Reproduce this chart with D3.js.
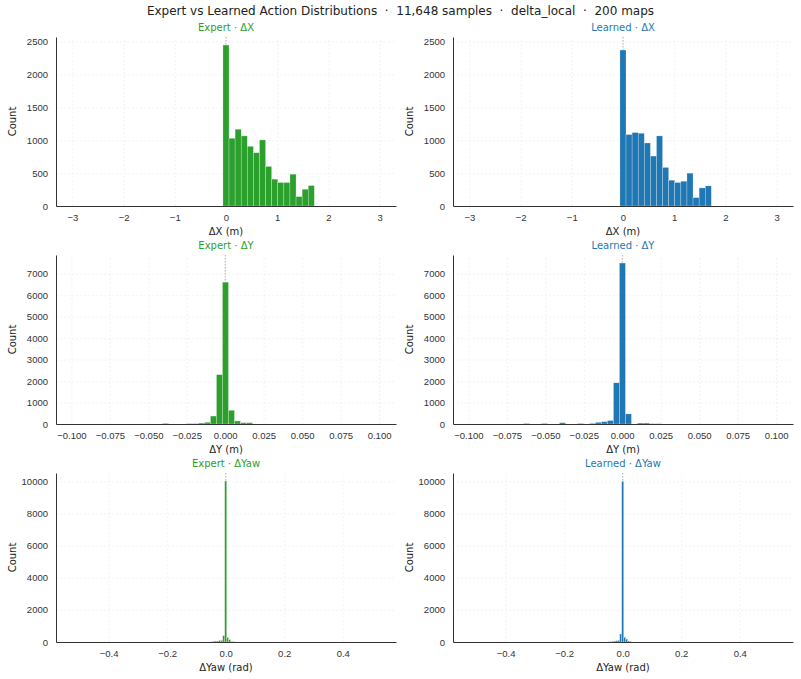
<!DOCTYPE html>
<html>
<head>
<meta charset="utf-8">
<script src="https://cdn.jsdelivr.net/npm/d3@7"></script>
<style>
  body { margin: 0; background: #fff; }
  svg { font-family: "DejaVu Sans", sans-serif; }
  .tick text { fill: #333; font-size: 9.5px; }
  .domain { stroke: #333; }
  .grid line { stroke: #f0f0f0; stroke-dasharray: 2,2; stroke-width: 0.8; }
  .grid .domain { display: none; }
</style>
</head>
<body>
<div id="main"></div>
<script>
// title text
const title = 'Expert vs Learned Action Distributions  \u00b7  11,648 samples  \u00b7  delta_local  \u00b7  200 maps';
const sources = ['Expert', 'Learned'];
const sourceColors = ['#2ca02c', '#1f77b4'];

// histogram bins (left edge of first listed bin, bin width)
const dxBinStart = -0.06, dxBinWidth = 0.119;
const dyBinStart = -0.0408, dyBinWidth = 0.0039;   // expert starts 10 bins left of 0
const dyBinStartLearned = -0.0642;                   // learned starts 16 bins left of 0
const dyawBinStart = -0.0511, dyawBinWidth = 0.0068; // 7 bins left of 0
const dyawBinStartLearned = -0.0511;

// counts
const expertDX = [2446, 1030, 1167, 1065, 907, 810, 1004, 601, 408, 357, 357, 484, 143, 255, 311];
const learnedDX = [2370, 1086, 1116, 1106, 958, 759, 1065, 586, 392, 357, 377, 499, 127, 275, 306];
const expertDY = [30, 0, 0, 0, 20, 20, 45, 80, 370, 2300, 6610, 640, 140, 60, 60];
const learnedDY = [25, 0, 0, 25, 0, 0, 60, 0, 0, 25, 0, 30, 80, 110, 160, 1920, 7500, 470, 0, 45, 45, 15, 15];
const expertYaw = [20, 40, 60, 60, 100, 100, 400, 10020, 280, 150, 40, 30];
const learnedYaw = [20, 30, 40, 60, 80, 100, 500, 10000, 290, 180, 60, 30];

// axes
const rowVars = ['\u0394X', '\u0394Y', '\u0394Yaw'];
const rowLabels = ['\u0394X (m)', '\u0394Y (m)', '\u0394Yaw (rad)'];
const xDomains = [[-3.32, 3.32], [-0.11, 0.111], [-0.58, 0.582]];
const xTicks = [[-3, -2, -1, 0, 1, 2, 3],
  [-0.1, -0.075, -0.05, -0.025, 0, 0.025, 0.05, 0.075, 0.1],
  [-0.4, -0.2, 0, 0.2, 0.4]];
const xFormats = ['d', '.3f', '.1f'];
const yTicks = [[0, 500, 1000, 1500, 2000, 2500],
  [0, 1000, 2000, 3000, 4000, 5000, 6000, 7000],
  [0, 2000, 4000, 6000, 8000, 10000]];

const rows = [
  [{ counts: expertDX, start: dxBinStart, w: dxBinWidth }, { counts: learnedDX, start: dxBinStart, w: dxBinWidth }],
  [{ counts: expertDY, start: dyBinStart, w: dyBinWidth }, { counts: learnedDY, start: dyBinStartLearned, w: dyBinWidth }],
  [{ counts: expertYaw, start: dyawBinStart, w: dyawBinWidth }, { counts: learnedYaw, start: dyawBinStartLearned, w: dyawBinWidth }]
];

const W = 801, H = 679;
const colLeft = [56, 453];
const pw = 340, ph = 169;
const rowTop = [37, 255, 473];

const svg = d3.select('#main').append('svg')
  .attr('width', W)
  .attr('height', H);

svg.append('text')
  .attr('x', W / 2)
  .attr('y', 15)
  .attr('text-anchor', 'middle')
  .attr('font-size', 12)
  .attr('fill', '#222')
  .style('white-space', 'pre')
  .text(title);

rows.forEach((row, r) => {
  const ymax = d3.max(row, (s) => d3.max(s.counts)) * 1.05;
  const y = d3.scaleLinear().domain([0, ymax]).range([ph, 0]);
  const x = d3.scaleLinear().domain(xDomains[r]).range([0, pw]);

  row.forEach((s, c) => {
    const g = svg.append('g')
      .attr('transform', `translate(${colLeft[c]},${rowTop[r]})`);

    // grid
    g.append('g')
      .attr('class', 'grid')
      .call(d3.axisLeft(y).tickValues(yTicks[r]).tickSize(-pw).tickFormat(''));
    g.append('g')
      .attr('class', 'grid')
      .attr('transform', `translate(0,${ph})`)
      .call(d3.axisBottom(x).tickValues(xTicks[r]).tickSize(-ph).tickFormat(''));

    // zero reference
    g.append('line')
      .attr('x1', x(0)).attr('x2', x(0))
      .attr('y1', 0).attr('y2', ph)
      .attr('stroke', '#b0b0b0')
      .attr('stroke-width', 1)
      .attr('stroke-dasharray', '1.5,1.5');

    const bins = s.counts.map((v, i) => ({ x0: s.start + i * s.w, x1: s.start + (i + 1) * s.w, v }))
      .filter((b) => b.v > 0);

    g.selectAll('rect.bar')
      .data(bins)
      .enter()
      .append('rect')
      .attr('class', 'bar')
      .attr('x', (b) => x(b.x0))
      .attr('width', (b) => x(b.x1) - x(b.x0))
      .attr('y', (b) => y(b.v))
      .attr('height', (b) => ph - y(b.v))
      .attr('fill', sourceColors[c])
      .attr('stroke', '#fff')
      .attr('stroke-opacity', 0.5)
      .attr('stroke-width', 0.5);

    // axes
    g.append('g')
      .call(d3.axisLeft(y).tickValues(yTicks[r]).tickSize(0).tickPadding(8).tickFormat(d3.format('d')))
      .call((a) => a.select('.domain').attr('stroke', '#333'));
    g.append('g')
      .attr('transform', `translate(0,${ph})`)
      .call(d3.axisBottom(x).tickValues(xTicks[r]).tickSize(0).tickPadding(8).tickFormat(d3.format(xFormats[r])))
      .call((a) => a.select('.domain').attr('stroke', '#333'));

    // labels
    g.append('text')
      .attr('x', pw / 2)
      .attr('y', -6)
      .attr('text-anchor', 'middle')
      .attr('font-size', 10)
      .attr('fill', sourceColors[c])
      .text(`${sources[c]} \u00b7 ${rowVars[r]}`);

    g.append('text')
      .attr('x', pw / 2)
      .attr('y', ph + 29)
      .attr('text-anchor', 'middle')
      .attr('font-size', 10)
      .attr('fill', '#222')
      .text(rowLabels[r]);

    g.append('text')
      .attr('transform', `translate(-40,${ph / 2}) rotate(-90)`)
      .attr('text-anchor', 'middle')
      .attr('font-size', 10)
      .attr('fill', '#222')
      .text('Count');
  });
});
</script>
</body>
</html>
